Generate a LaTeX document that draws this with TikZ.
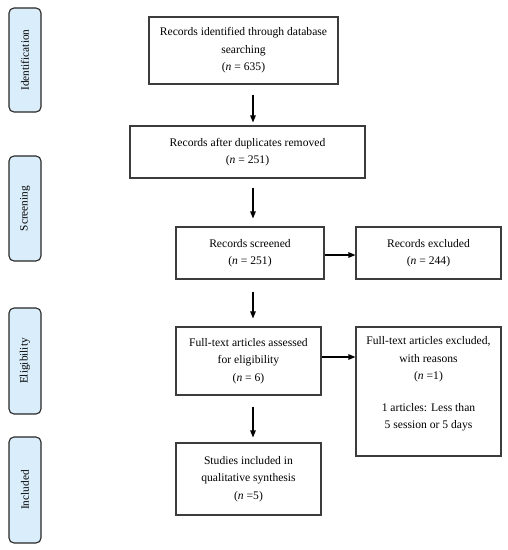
\documentclass[tikz,border=0pt]{standalone}
\usepackage{fontspec}
\setmainfont{Liberation Serif}
\usetikzlibrary{arrows.meta}
\definecolor{sidefill}{RGB}{218,237,250}
\definecolor{boxline}{RGB}{60,60,60}
\begin{document}
\begin{tikzpicture}[x=1pt,y=-1pt,
  every node/.style={font=\fontsize{11.6}{17.5}\selectfont},
  flowbox/.style={draw=boxline,line width=1.1pt,rectangle,inner sep=0pt,align=center},
  sidebox/.style={draw=black!85,line width=1.1pt,fill=sidefill,rounded corners=5pt,minimum width=32pt,minimum height=105pt,inner sep=0pt},
  sidetext/.style={rotate=90,font=\fontsize{11.3}{12}\selectfont},
  arr/.style={line width=1.2pt,-{Triangle[length=7pt,width=5.5pt]}}]
\useasboundingbox (0,0) rectangle (508,550);
% side phase boxes
\node[sidebox,minimum height=104pt] (sid) at (25,60) {};
\node[sidetext] (sidt) at (sid.center) {Identification};
\node[sidebox] (ssc) at (25,208.5) {};
\node[sidetext] (ssct) at (ssc.center) {Screening};
\node[sidebox,minimum height=106pt] (sel) at (25,361) {};
\node[sidetext] (selt) at (sel.center) {Eligibility};
\node[sidebox,minimum height=106pt] (sin) at (25,490) {};
\node[sidetext] (sint) at (sin.center) {Included};
% flow boxes
\node[flowbox,minimum width=189pt,minimum height=67pt] (b1) at (243.5,50.5)
  {Records identified through database\\searching\\(\textit{n} = 635)};
\node[flowbox,minimum width=235pt,minimum height=52pt] (b2) at (247.5,152)
  {Records after duplicates removed\\(\textit{n} = 251)};
\node[flowbox,minimum width=148pt,minimum height=52pt] (b3) at (250,253)
  {Records screened\\(\textit{n} = 251)};
\node[flowbox,minimum width=145pt,minimum height=52pt] (b4) at (428.5,253)
  {Records excluded\\(\textit{n} = 244)};
\node[flowbox,minimum width=145pt,minimum height=68pt] (b5) at (248.5,361)
  {Full-text articles assessed\\for eligibility\\(\textit{n} = 6)};
\node[flowbox,minimum width=145pt,minimum height=129pt] (b6) at (428.5,391.5) {};
\node[align=center,anchor=north,inner sep=0pt] (b6t) at ([yshift=-10pt]b6.north)
  {Full-text articles excluded,\\with reasons\\(\textit{n} =1)\\[14pt]\fontsize{11.6}{13.5}\selectfont 1 articles: Less than\\\fontsize{11.6}{13.5}\selectfont 5 session or 5 days};
\node[flowbox,minimum width=145pt,minimum height=72pt] (b7) at (248.5,479)
  {Studies included in\\qualitative synthesis\\(\textit{n} =5)};
% connectors
\coordinate (ax) at (253,0);
\draw[arr,shorten <=10pt,shorten >=3pt] (b1.south -| ax) -- (b2.north -| ax);
\draw[arr,shorten <=9pt,shorten >=8pt] (b2.south -| ax) -- (b3.north -| ax);
\draw[arr,shorten <=12pt,shorten >=8pt] (b3.south -| ax) -- (b5.north -| ax);
\draw[arr,shorten <=11pt,shorten >=5pt] (b5.south -| ax) -- (b7.north -| ax);
\coordinate (h1) at (0,255);
\coordinate (h2) at (0,357);
\draw[arr] (b3.east |- h1) -- (b4.west |- h1);
\draw[arr] (b5.east |- h2) -- (b6.west |- h2);
\end{tikzpicture}
\end{document}
